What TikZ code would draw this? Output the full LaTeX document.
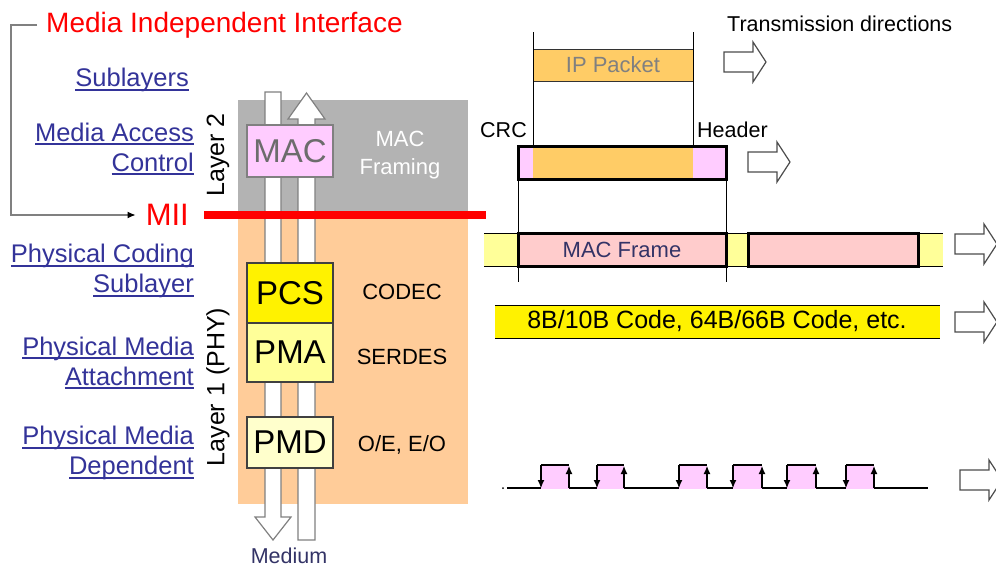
\documentclass[tikz,border=0pt]{standalone}
\usepackage{fontspec}
\setmainfont{Liberation Sans}
\usetikzlibrary{arrows.meta,positioning}
\definecolor{layerGray}{HTML}{B3B3B3}
\definecolor{phyOrange}{HTML}{FFCC99}
\definecolor{macPink}{HTML}{FFCCFF}
\definecolor{frameRose}{HTML}{FFCCCC}
\definecolor{ipOrange}{HTML}{FFCC66}
\definecolor{paleYellow}{HTML}{FFFF99}
\definecolor{creamYellow}{HTML}{FFFFCC}
\definecolor{linkBlue}{HTML}{333399}
\definecolor{inkNavy}{HTML}{333366}

\newcommand{\fs}[1]{\fontsize{#1}{#1}\selectfont}
\newcommand{\linkline}[1]{\setbox0\hbox{#1}\rlap{\rule[-4pt]{\wd0}{1.8pt}}\box0}

\tikzset{
  every node/.style={inner sep=1pt},
  linklabel/.style={anchor=east, align=right, text=linkBlue, font=\fontsize{25.5}{30}\selectfont},
  sublayer/.style={draw=black!75, line width=1.2pt, minimum width=86pt, font=\fontsize{33}{36}\selectfont},
  flowarrow/.style={draw=gray, line width=1.2pt, fill=white},
  duty/.style={font=\fontsize{22}{28}\selectfont, align=center},
  txarrow/.pic={\draw[gray!60!black, line width=1.2pt, fill=white] (0,-10) -- (29,-10) -- (29,-20) -- (42,0) -- (29,20) -- (29,10) -- (0,10) -- cycle;},
  edgetip/.style={-{Latex[length=8pt,width=7pt]}, line width=1.1pt}
}

\begin{document}
\begin{tikzpicture}[x=1pt, y=-1pt]
  \fill[white] (0,0) rectangle (996,566);
  \useasboundingbox (0,0) rectangle (996,566);

  % layer backgrounds
  \fill[layerGray] (238,100) rectangle (468,213);
  \fill[phyOrange] (238,219) rectangle (468,504);

  % data paths through the stack
  \draw[flowarrow] (265,92) -- (281,92) -- (281,517) -- (291,517) -- (273,540) -- (255,517) -- (265,517) -- cycle;
  \draw[flowarrow] (298,540) -- (298,119) -- (288,119) -- (306.5,93) -- (325,119) -- (315,119) -- (315,540) -- cycle;

  % sublayer boxes
  \node[sublayer, fill=macPink, draw=gray, text=gray!85!black, minimum height=52pt] (mac) at (290,151) {MAC};
  \node[sublayer, fill=yellow, minimum height=60pt] (pcs) at (290,293) {PCS};
  \node[sublayer, fill=paleYellow, minimum height=59pt] (pma) at (290,352.5) {PMA};
  \node[sublayer, fill=creamYellow, minimum height=51pt] (pmd) at (290,442.5) {PMD};

  \draw[red, line width=8pt] (204,215) -- (486,215);

  \node[duty, text=white] (framing) at (400,155) {MAC\\Framing};
  \node[duty] (codec) at (402,292) {CODEC};
  \node[duty] (serdes) at (402,357) {SERDES};
  \node[duty] (oe) at (402,445) {O/E, E/O};
  \node[anchor=base, font=\fs{21.5}, text=inkNavy] (medium) at (289,563) {Medium};

  \node[rotate=90, font=\fs{25}] (layer2) at (218,155) {Layer 2};
  \node[rotate=90, font=\fs{25}] (layer1) at (218,387) {Layer 1 (PHY)};

  % sublayer names on the left
  \node[linklabel] (sub) at (190,80) {\linkline{Sublayers}};
  \node[linklabel] (macname) at (195,149) {\linkline{Media Access}\\\linkline{Control}};
  \node[linklabel] (pcsname) at (195,271) {\linkline{Physical Coding}\\\linkline{Sublayer}};
  \node[linklabel] (pmaname) at (195,363) {\linkline{Physical Media}\\\linkline{Attachment}};
  \node[linklabel] (pmdname) at (195,453) {\linkline{Physical Media}\\\linkline{Dependent}};

  \node[anchor=west, text=red, font=\fs{28}] (mititle) at (45,25) {Media Independent Interface};
  \node[anchor=east, text=red, font=\fs{31}] (mii) at (190,215) {MII};
  \draw[gray, line width=1.2pt, -{Latex[black,length=8pt,width=7pt]}] (mititle.west) ++(-8,0) -- ++(-26,0) |- ([xshift=-9pt]mii.west);

  % transmission side
  \node[anchor=west, font=\fs{21.5}] (txdir) at (726,24) {Transmission directions};

  \node[draw=black!80, line width=1pt, fill=ipOrange, minimum width=160pt, minimum height=32pt, text=gray, font=\fs{22}] (ip) at (613,65) {IP Packet};
  \fill[macPink] (518,146) rectangle (726,179);
  \fill[ipOrange] (533,146) rectangle (693,179);
  \draw[line width=1pt] (533,32) -- (533,147) (693,32) -- (693,147);
  \draw[line width=3pt] (518,146) rectangle (726,179);
  \draw[line width=1pt] (518,179) -- (518,282) (726,179) -- (726,282);
  \node[anchor=east, font=\fs{21.5}] (crc) at (528,130) {CRC};
  \node[anchor=west, font=\fs{21.5}] (hdr) at (696,130) {Header};

  \fill[paleYellow] (484,233) rectangle (943,266);
  \draw[line width=1pt] (484,233) -- (943,233) (484,266) -- (943,266);
  \node[draw, line width=3pt, fill=frameRose, minimum width=208pt, minimum height=33pt, text=inkNavy, font=\fs{22}] (frame1) at (622,249.5) {MAC Frame};
  \node[draw, line width=3pt, fill=frameRose, minimum width=170pt, minimum height=33pt] (frame2) at (833,249.5) {};
  \draw[line width=1pt] (518,266) -- (518,282) (726,266) -- (726,282);

  \fill[yellow] (495,305) rectangle (940,338);
  \draw[line width=1pt] (495,305) -- (940,305) (495,338) -- (940,338);
  \node[font=\fs{25}] (code) at (717,321) {8B/10B Code, 64B/66B Code, etc.};

  % line signal
  \fill (503,488) circle (1);
  \foreach \a/\b in {507/541, 569/597, 624/679, 707/733, 762/787, 816/846, 874/928}
    \draw[line width=1.1pt] (\a,488) -- (\b,488);
  \foreach \a/\b in {541/569, 597/624, 679/707, 733/762, 787/816, 846/874} {
    \fill[macPink] (\a,465) rectangle (\b,489);
    \draw[line width=1.1pt] (\a,465) -- (\b,465);
    \draw[edgetip] (\a,465) -- (\a,488);
    \draw[edgetip] (\b,488) -- (\b,466);
  }

  \pic at (724,62) {txarrow};
  \pic at (748,162) {txarrow};
  \pic at (955,244) {txarrow};
  \pic at (955,322) {txarrow};
  \pic at (960,480) {txarrow};
\end{tikzpicture}
\end{document}
